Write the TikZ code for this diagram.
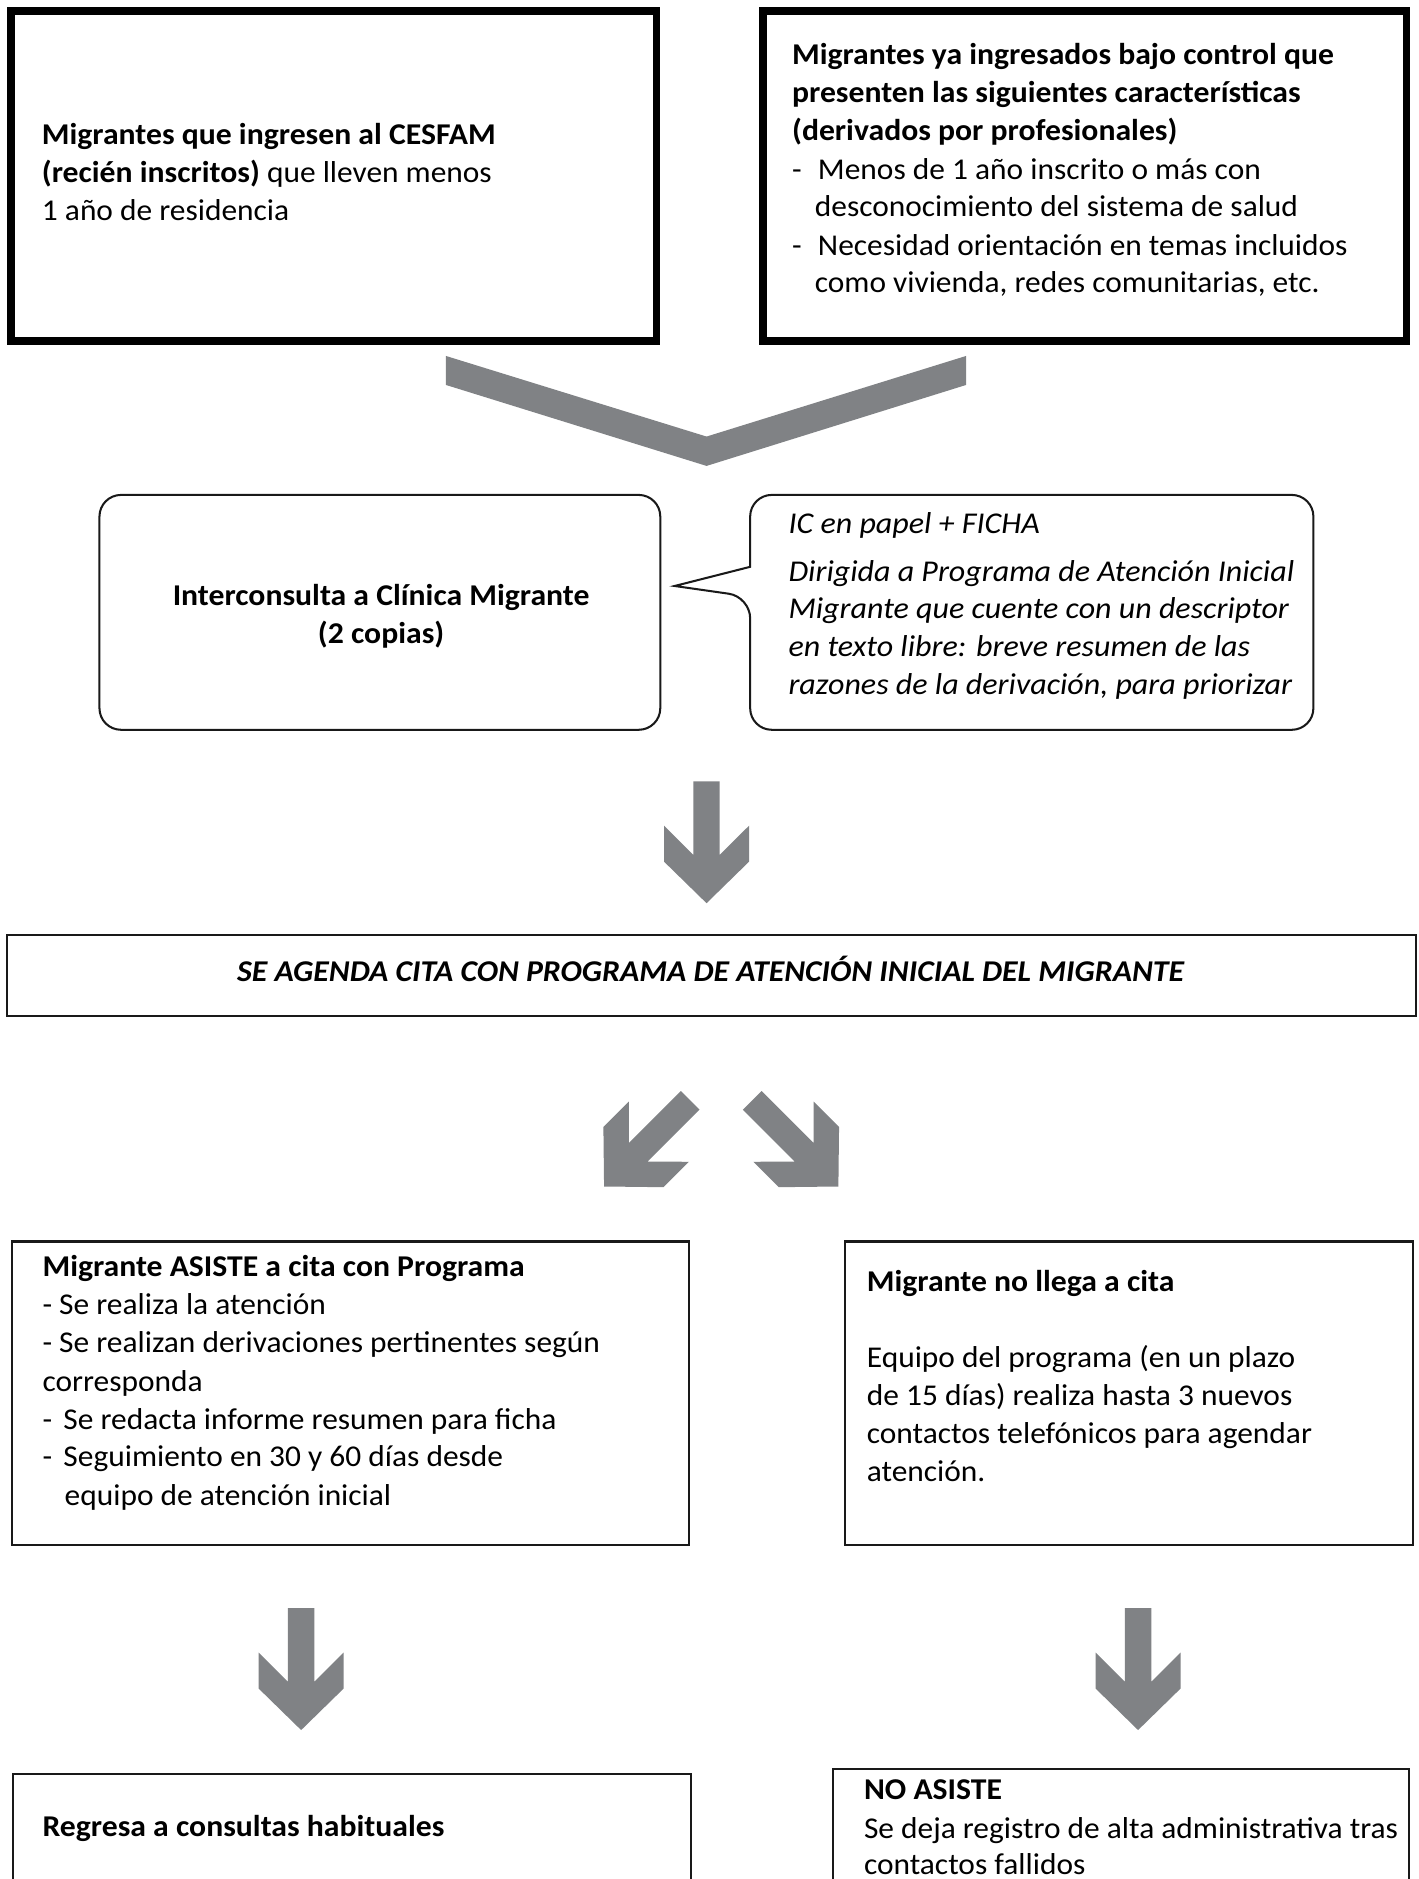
\documentclass[tikz,border=0pt]{standalone}
\usepackage{fontspec}
\setmainfont{Carlito}[
  UprightFeatures={FakeStretch=1.04},
  BoldFeatures={FakeStretch=1.05},
  ItalicFeatures={FakeStretch=1.06},
  BoldItalicFeatures={FakeStretch=1.053}]
\definecolor{arrowgray}{RGB}{128,130,133}
\tikzset{
  thickbox/.style={draw=black, line width=6.4pt, inner sep=0pt, outer sep=0pt},
  thinbox/.style={draw=black!90, line width=1.7pt, inner sep=0pt, outer sep=0pt},
  roundbox/.style={thinbox, rounded corners=18pt},
  txt/.style={anchor=base west, inner sep=0pt, outer sep=0pt, font=\fontsize{25.2}{32}\selectfont},
  ctxt/.style={anchor=base, inner sep=0pt, outer sep=0pt, font=\fontsize{25.2}{32}\selectfont},
  itxt/.style={txt, font=\fontsize{25.2}{32}\selectfont\itshape},
  blockarrow/.pic={
    \fill[arrowgray] (-11,0) -- (11,0) -- (11,61.4) -- (35.5,37) -- (35.5,67) -- (0,101.7)
      -- (-35.5,67) -- (-35.5,37) -- (-11,61.4) -- cycle;
  }
}
\begin{document}
\begin{tikzpicture}[x=1pt,y=-1pt]
\useasboundingbox (0,0) rectangle (1184,1568);
\clip (0,0) rectangle (1184,1568);
\fill[white] (0,0) rectangle (1184,1568);

% top boxes
\node[thickbox, minimum width=538.6pt, minimum height=275.4pt] (b1) at (278.5,147) {};
\node[txt] (t1a) at (35,121) {\bfseries Migrantes que ingresen al CESFAM};
\node[txt] (t1b) at (35,152.5) {\textbf{(recién inscritos)} que lleven menos};
\node[txt] (t1c) at (35,184) {1 año de residencia};

\node[thickbox, minimum width=537.1pt, minimum height=275.4pt] (b2) at (905.25,147) {};
\node[txt] (t2a) at (661,54) {\bfseries Migrantes ya ingresados bajo control que};
\node[txt] (t2b) at (661,85.5) {\bfseries presenten las siguientes características};
\node[txt] (t2c) at (661,117) {\bfseries (derivados por profesionales)};
\node[txt] (t2d) at (661,149.5) {\makebox[21.6pt][l]{-}Menos de 1 año inscrito o más con};
\node[txt] (t2e) at (680,181) {desconocimiento del sistema de salud};
\node[txt] (t2f) at (661,213) {\makebox[21.6pt][l]{-}Necesidad orientación en temas incluidos};
\node[txt] (t2g) at (680,244.5) {como vivienda, redes comunitarias, etc.};

% chevron
\fill[arrowgray] (372,297) -- (589.6,364.3) -- (806.3,297) -- (806.3,321.2) -- (589.6,388.8) -- (372,321.2) -- cycle;

% middle boxes
\node[roundbox, minimum width=468pt, minimum height=196pt] (b3) at (317,511) {};
\node[ctxt] (t3a) at (318,505) {\bfseries Interconsulta a Clínica Migrante};
\node[ctxt] (t3b) at (318,537) {\bfseries (2 copias)};

\node[inner sep=0pt, minimum width=470pt, minimum height=196pt] (b4) at (861,511) {};
\draw[black!90, line width=1.7pt, line join=miter] (626,473) [rounded corners=18pt] -- (626,413) -- (1096,413) -- (1096,609) -- (626,609) -- (626,498) [sharp corners] -- (563,489) -- cycle;
\node[itxt] (t4a) at (658,445) {IC en papel + FICHA};
\node[itxt] (t4b) at (658,485) {Dirigida a Programa de Atención Inicial};
\node[itxt] (t4c) at (658,516.5) {Migrante que cuente con un descriptor};
\node[itxt] (t4d) at (658,548) {en texto libre: breve resumen de las};
\node[itxt] (t4e) at (658,579.5) {razones de la derivación, para priorizar};

% arrow down
\pic at (589.6,652) {blockarrow};

% agenda
\node[thinbox, minimum width=1175.6pt, minimum height=67pt] (b5) at (593.8,814) {};
\node[ctxt, font=\fontsize{25.2}{32}\selectfont\bfseries\itshape] (t5) at (593,819) {SE AGENDA CITA CON PROGRAMA DE ATENCIÓN INICIAL DEL MIGRANTE};

% diagonal arrows
\pic[rotate=-45] at (576,918.2) {blockarrow};
\pic[rotate=45] at (627.7,918.2) {blockarrow};

% bottom boxes
\node[thinbox, minimum width=565pt, minimum height=253.5pt] (b6) at (292.5,1162.75) {};
\node[txt] (t6a) at (35.5,1065) {\bfseries Migrante ASISTE a cita con Programa};
\node[txt] (t6b) at (35.5,1097) {- Se realiza la atención};
\node[txt] (t6c) at (35.5,1129) {- Se realizan derivaciones pertinentes según};
\node[txt] (t6d) at (35.5,1161) {corresponda};
\node[txt] (t6e) at (35.5,1192.5) {\makebox[17.5pt][l]{-}Se redacta informe resumen para ficha};
\node[txt] (t6f) at (35.5,1224) {\makebox[17.5pt][l]{-}Seguimiento en 30 y 60 días desde};
\node[txt] (t6g) at (54,1256) {equipo de atención inicial};

\node[thinbox, minimum width=474.5pt, minimum height=253.5pt] (b7) at (942.25,1162.75) {};
\node[txt] (t7a) at (723.4,1078) {\bfseries Migrante no llega a cita};
\node[txt] (t7b) at (723.4,1141) {Equipo del programa (en un plazo};
\node[txt] (t7c) at (723.4,1173) {de 15 días) realiza hasta 3 nuevos};
\node[txt] (t7d) at (723.4,1204.5) {contactos telefónicos para agendar};
\node[txt] (t7e) at (723.4,1236) {atención.};

% bottom arrows
\pic at (251.3,1342) {blockarrow};
\pic at (949.7,1342) {blockarrow};

% final boxes
\node[thinbox, minimum width=566pt, minimum height=120pt] (b8) at (294,1540) {};
\node[txt] (t8) at (35.5,1532.5) {\bfseries Regresa a consultas habituales};

\node[thinbox, minimum width=481pt, minimum height=130pt] (b9) at (935.5,1541) {};
\node[txt] (t9a) at (721,1502) {\bfseries NO ASISTE};
\node[txt] (t9b) at (721,1534) {Se deja registro de alta administrativa tras};
\node[txt] (t9c) at (721,1564.5) {contactos fallidos};
\end{tikzpicture}
\end{document}
